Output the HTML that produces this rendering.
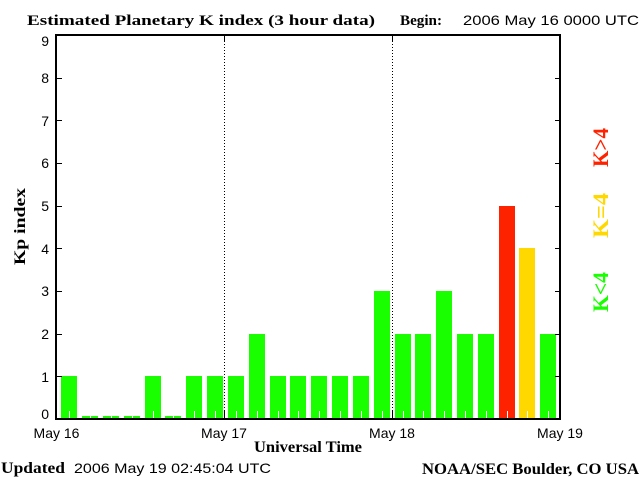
<!DOCTYPE html>
<html>
<head>
<meta charset="utf-8">
<style>
html,body{margin:0;padding:0;background:#fff;}
svg{display:block;}
.sans{font-family:"Liberation Sans",sans-serif;font-size:14px;fill:#000;}
.serif{font-family:"Liberation Serif",serif;font-weight:bold;fill:#000;}
</style>
</head>
<body>
<svg width="640" height="480" viewBox="0 0 640 480" xmlns="http://www.w3.org/2000/svg">
<rect x="0" y="0" width="640" height="480" fill="#fff"/>

<!-- Title -->
<text class="serif" x="27" y="25" font-size="15" textLength="348" lengthAdjust="spacingAndGlyphs">Estimated Planetary K index (3 hour data)</text>
<text class="serif" x="400" y="25" font-size="15" textLength="42" lengthAdjust="spacingAndGlyphs">Begin:</text>
<text class="sans" x="463" y="25" textLength="176" lengthAdjust="spacingAndGlyphs">2006 May 16 0000 UTC</text>

<!-- Bars -->
<g shape-rendering="crispEdges">
<rect x="61" y="376" width="16" height="43" fill="#19ff00"/>
<rect x="82" y="416" width="16" height="3" fill="#19ff00"/>
<rect x="103" y="416" width="16" height="3" fill="#19ff00"/>
<rect x="124" y="416" width="16" height="3" fill="#19ff00"/>
<rect x="145" y="376" width="16" height="43" fill="#19ff00"/>
<rect x="165" y="416" width="16" height="3" fill="#19ff00"/>
<rect x="186" y="376" width="16" height="43" fill="#19ff00"/>
<rect x="207" y="376" width="16" height="43" fill="#19ff00"/>
<rect x="228" y="376" width="16" height="43" fill="#19ff00"/>
<rect x="249" y="334" width="16" height="85" fill="#19ff00"/>
<rect x="270" y="376" width="16" height="43" fill="#19ff00"/>
<rect x="290" y="376" width="16" height="43" fill="#19ff00"/>
<rect x="311" y="376" width="16" height="43" fill="#19ff00"/>
<rect x="332" y="376" width="16" height="43" fill="#19ff00"/>
<rect x="353" y="376" width="16" height="43" fill="#19ff00"/>
<rect x="374" y="291" width="16" height="128" fill="#19ff00"/>
<rect x="395" y="334" width="16" height="85" fill="#19ff00"/>
<rect x="415" y="334" width="16" height="85" fill="#19ff00"/>
<rect x="436" y="291" width="16" height="128" fill="#19ff00"/>
<rect x="457" y="334" width="16" height="85" fill="#19ff00"/>
<rect x="478" y="334" width="16" height="85" fill="#19ff00"/>
<rect x="499" y="206" width="16" height="213" fill="#ff2200"/>
<rect x="519" y="248" width="16" height="171" fill="#ffd800"/>
<rect x="540" y="334" width="16" height="85" fill="#19ff00"/>
</g>

<!-- white minor ticks -->
<g stroke="#fff" stroke-width="1" shape-rendering="crispEdges">
<line x1="69.5" y1="411" x2="69.5" y2="419"/>
<line x1="90.5" y1="411" x2="90.5" y2="419"/>
<line x1="111.5" y1="411" x2="111.5" y2="419"/>
<line x1="132.5" y1="411" x2="132.5" y2="419"/>
<line x1="153.5" y1="411" x2="153.5" y2="419"/>
<line x1="173.5" y1="411" x2="173.5" y2="419"/>
<line x1="194.5" y1="411" x2="194.5" y2="419"/>
<line x1="215.5" y1="411" x2="215.5" y2="419"/>
<line x1="236.5" y1="411" x2="236.5" y2="419"/>
<line x1="257.5" y1="411" x2="257.5" y2="419"/>
<line x1="278.5" y1="411" x2="278.5" y2="419"/>
<line x1="298.5" y1="411" x2="298.5" y2="419"/>
<line x1="319.5" y1="411" x2="319.5" y2="419"/>
<line x1="340.5" y1="411" x2="340.5" y2="419"/>
<line x1="361.5" y1="411" x2="361.5" y2="419"/>
<line x1="382.5" y1="411" x2="382.5" y2="419"/>
<line x1="403.5" y1="411" x2="403.5" y2="419"/>
<line x1="423.5" y1="411" x2="423.5" y2="419"/>
<line x1="444.5" y1="411" x2="444.5" y2="419"/>
<line x1="465.5" y1="411" x2="465.5" y2="419"/>
<line x1="486.5" y1="411" x2="486.5" y2="419"/>
<line x1="507.5" y1="411" x2="507.5" y2="419"/>
<line x1="527.5" y1="411" x2="527.5" y2="419"/>
<line x1="548.5" y1="411" x2="548.5" y2="419"/>
</g>

<!-- dotted day separators -->
<g stroke="#000" stroke-width="1" stroke-dasharray="1 2" shape-rendering="crispEdges">
<line x1="224.5" y1="35" x2="224.5" y2="419"/>
<line x1="392.5" y1="35" x2="392.5" y2="419"/>
</g>
<g stroke="#000" stroke-width="1" shape-rendering="crispEdges">
<line x1="224.5" y1="35" x2="224.5" y2="42"/>
<line x1="392.5" y1="35" x2="392.5" y2="42"/>
<line x1="224.5" y1="411" x2="224.5" y2="419"/>
<line x1="392.5" y1="411" x2="392.5" y2="419"/>
</g>

<!-- frame -->
<g stroke="#000" stroke-width="2" fill="none" shape-rendering="crispEdges">
<rect x="56" y="35" width="504" height="384"/>
</g>

<!-- y ticks -->
<g stroke="#000" stroke-width="1" shape-rendering="crispEdges">
<line x1="56" y1="78.5" x2="62" y2="78.5"/>
<line x1="56" y1="120.5" x2="62" y2="120.5"/>
<line x1="56" y1="163.5" x2="62" y2="163.5"/>
<line x1="56" y1="206.5" x2="62" y2="206.5"/>
<line x1="56" y1="248.5" x2="62" y2="248.5"/>
<line x1="56" y1="291.5" x2="62" y2="291.5"/>
<line x1="56" y1="334.5" x2="62" y2="334.5"/>
<line x1="56" y1="376.5" x2="62" y2="376.5"/>
<line x1="555" y1="78.5" x2="560" y2="78.5"/>
<line x1="555" y1="120.5" x2="560" y2="120.5"/>
<line x1="555" y1="163.5" x2="560" y2="163.5"/>
<line x1="555" y1="206.5" x2="560" y2="206.5"/>
<line x1="555" y1="248.5" x2="560" y2="248.5"/>
<line x1="555" y1="291.5" x2="560" y2="291.5"/>
<line x1="555" y1="334.5" x2="560" y2="334.5"/>
<line x1="555" y1="376.5" x2="560" y2="376.5"/>
</g>

<!-- y labels -->
<g class="sans" text-anchor="end">
<text x="49" y="46">9</text>
<text x="49" y="83">8</text>
<text x="49" y="126">7</text>
<text x="49" y="168">6</text>
<text x="49" y="211">5</text>
<text x="49" y="254">4</text>
<text x="49" y="296">3</text>
<text x="49" y="339">2</text>
<text x="49" y="382">1</text>
<text x="49" y="419">0</text>
</g>

<!-- x labels -->
<g class="sans" text-anchor="middle">
<text x="56.5" y="438">May 16</text>
<text x="224" y="438">May 17</text>
<text x="392" y="438">May 18</text>
<text x="560" y="438">May 19</text>
</g>

<text class="serif" x="254" y="452" font-size="16" textLength="108" lengthAdjust="spacingAndGlyphs">Universal Time</text>

<!-- Y axis title -->
<text class="serif" font-size="16" transform="translate(25,265) rotate(-90)" textLength="77" lengthAdjust="spacingAndGlyphs">Kp index</text>

<!-- Legend -->
<text class="serif" font-size="22" fill="#ff2200" style="fill:#ff2200" transform="translate(608,167) rotate(-90)" textLength="39" lengthAdjust="spacingAndGlyphs">K&gt;4</text>
<text class="serif" font-size="22" style="fill:#ffd800" transform="translate(608,238) rotate(-90)" textLength="45" lengthAdjust="spacingAndGlyphs">K=4</text>
<text class="serif" font-size="22" style="fill:#19ff00" transform="translate(608,312) rotate(-90)" textLength="40" lengthAdjust="spacingAndGlyphs">K&lt;4</text>

<!-- Footer -->
<text class="serif" x="1" y="473" font-size="16" textLength="64" lengthAdjust="spacingAndGlyphs">Updated</text>
<text class="sans" x="74" y="473" textLength="197" lengthAdjust="spacingAndGlyphs">2006 May 19 02:45:04 UTC</text>
<text class="serif" x="422" y="474" font-size="16" textLength="217" lengthAdjust="spacingAndGlyphs">NOAA/SEC Boulder, CO USA</text>
</svg>
</body>
</html>
